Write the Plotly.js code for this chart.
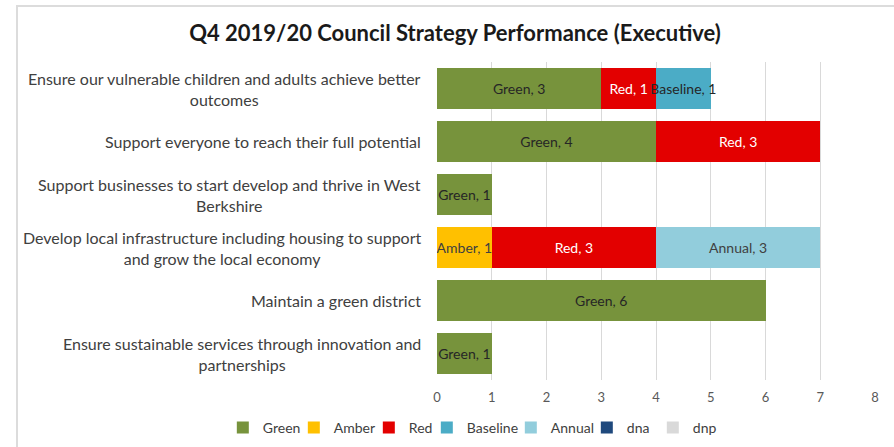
<!DOCTYPE html>
<html>
<head>
<meta charset="utf-8">
<script src="https://cdn.plot.ly/plotly-3.0.1.min.js"></script>
<style>
html,body{margin:0;padding:0;background:#fff;overflow:hidden;}
#chart{width:894px;height:447px;}
#frame{position:absolute;left:16px;top:5px;width:900px;height:460px;border-top:2px solid #dcdcdc;border-left:2px solid #dcdcdc;pointer-events:none;}
</style>
</head>
<body>
<div id="chart"></div>
<div id="frame"></div>
<script>
const categories = [
  "Ensure our vulnerable children and adults achieve better<br>outcomes",
  "Support everyone to reach their full potential",
  "Support businesses to start develop and thrive in West<br>Berkshire",
  "Develop local infrastructure including housing to support<br>and grow the local economy",
  "Maintain a green district",
  "Ensure sustainable services through innovation and<br>partnerships"
];
const seriesNames = ["Green", "Amber", "Red", "Baseline", "Annual", "dna", "dnp"];
const green    = [3, 4, 1, 0, 6, 1];
const amber    = [0, 0, 0, 1, 0, 0];
const red      = [1, 3, 0, 3, 0, 0];
const baseline = [1, 0, 0, 0, 0, 0];
const annual   = [0, 0, 0, 3, 0, 0];
const dna      = [0, 0, 0, 0, 0, 0];
const dnp      = [0, 0, 0, 0, 0, 0];
const xTicks   = [0, 1, 2, 3, 4, 5, 6, 7, 8];

const values = [green, amber, red, baseline, annual, dna, dnp];
const colors = ["#77933C", "#FFC000", "#E30000", "#4BACC6", "#92CDDC", "#1F497D", "#D9D9D9"];
const textColors = ["#262626", "#404040", "#FFFFFF", "#262626", "#404040", "#FFFFFF", "#404040"];
const legendWidths = [26, 30, 13, 39, 31, 21, 28];
const FONT = "Lato, 'Open Sans', sans-serif";

const traces = seriesNames.map((name, i) => ({
  type: "bar",
  orientation: "h",
  name: name,
  y: categories,
  x: values[i],
  legendwidth: legendWidths[i],
  marker: {color: colors[i], line: {width: 0}},
  text: values[i].map(v => v > 0 ? name + ", " + v : ""),
  textposition: "inside",
  insidetextanchor: "middle",
  constraintext: "none",
  textfont: {family: FONT, size: 14, color: textColors[i]},
  hoverinfo: "x+y+name"
}));

const annotations = categories.map(c => ({
  xref: "paper", yref: "y", x: 0, y: c,
  xanchor: "right", yanchor: "middle", xshift: -14,
  text: c, align: "center", showarrow: false,
  font: {family: FONT, size: 16, color: "#404040"}
}));

const layout = {
  width: 894, height: 447,
  margin: {l: 437, r: 19, t: 62, b: 67, autoexpand: false},
  paper_bgcolor: "#fff", plot_bgcolor: "#fff",
  barmode: "stack",
  bargap: 0.245,
  title: {
    text: "<b>Q4 2019/20 Council Strategy Performance (Executive)</b>",
    font: {family: FONT, size: 22, color: "#1a1a1a"},
    xref: "container", x: 0.509, xanchor: "center",
    yref: "container", y: 0.926, yanchor: "middle"
  },
  xaxis: {
    range: [0, 8], tickvals: xTicks, ticktext: xTicks.map(String),
    showgrid: true, gridcolor: "#D9D9D9", gridwidth: 1,
    zeroline: false, showline: false, ticks: "",
    ticklabelstandoff: 8,
    tickfont: {family: FONT, size: 13, color: "#595959"},
    fixedrange: true
  },
  yaxis: {
    type: "category", autorange: "reversed",
    showticklabels: false, showgrid: false, zeroline: false, showline: false, ticks: "",
    fixedrange: true
  },
  showlegend: true,
  legend: {
    orientation: "h",
    xref: "paper", x: -0.489, xanchor: "left",
    yref: "paper", y: -0.151, yanchor: "middle",
    font: {family: FONT, size: 14, color: "#404040"},
    traceorder: "normal",
    itemwidth: 30,
    bgcolor: "rgba(0,0,0,0)"
  },
  annotations: annotations,
  font: {family: FONT}
};

Plotly.newPlot("chart", traces, layout, {displayModeBar: false, staticPlot: true});
</script>
</body>
</html>
